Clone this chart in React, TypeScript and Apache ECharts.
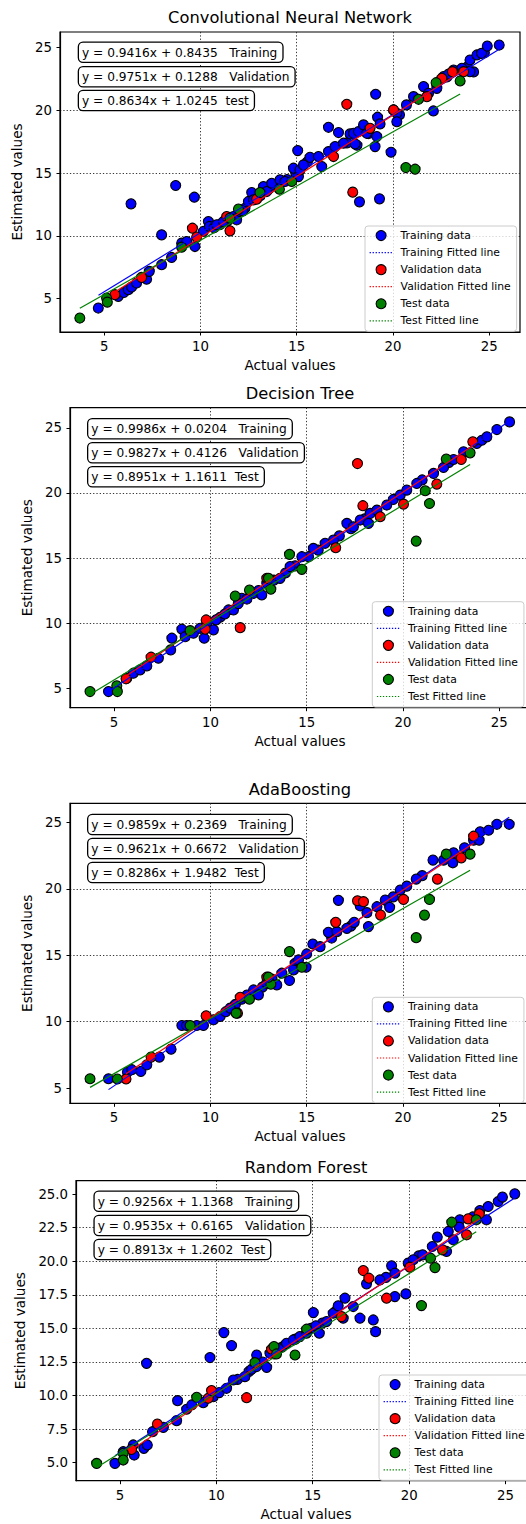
import React, { useEffect, useRef } from "react";
import * as echarts from "echarts";

type Pt = [number, number];

const FONT = '"DejaVu Sans", sans-serif';

const titles = ["Convolutional Neural Network", "Decision Tree", "AdaBoosting", "Random Forest"];

const equations: string[][] = [
  ["y = 0.9416x + 0.8435   Training", "y = 0.9751x + 0.1288   Validation", "y = 0.8634x + 1.0245  test"],
  ["y = 0.9986x + 0.0204   Training", "y = 0.9827x + 0.4126   Validation", "y = 0.8951x + 1.1611  Test"],
  ["y = 0.9859x + 0.2369   Training", "y = 0.9621x + 0.6672   Validation", "y = 0.8286x + 1.9482  Test"],
  ["y = 0.9256x + 1.1368   Training", "y = 0.9535x + 0.6165   Validation", "y = 0.8913x + 1.2602  Test"],
];

const legendNames = [
  "Training data",
  "Training Fitted line",
  "Validation data",
  "Validation Fitted line",
  "Test data",
  "Test Fitted line",
];

const xTickValues = [5, 10, 15, 20, 25];
const xTickLabels = ["5", "10", "15", "20", "25"];
const yTickValues = [5, 10, 15, 20, 25];
const yTickLabels = ["5", "10", "15", "20", "25"];
const yTickValuesRF = [5, 7.5, 10, 12.5, 15, 17.5, 20, 22.5, 25];
const yTickLabelsRF = ["5.0", "7.5", "10.0", "12.5", "15.0", "17.5", "20.0", "22.5", "25.0"];

// ---------- Convolutional Neural Network ----------
const cnnTrain: Pt[] = [
  [4.69, 4.26], [5.73, 5.19], [6.02, 5.5], [6.25, 5.72], [6.39, 12.56], [6.42, 5.93], [6.68, 6.25],
  [7.2, 6.56], [7.34, 7.18], [7.98, 10.09], [7.98, 7.71], [8.5, 8.29], [8.71, 14.02], [9.02, 9.43],
  [9.28, 9.56], [9.68, 13.09], [9.71, 9.16], [10.15, 10.36], [10.41, 11.15], [10.46, 10.76],
  [10.7, 10.65], [11.0, 10.9], [11.4, 11.2],
  [10.84, 10.89], [11.19, 11.15], [11.71, 11.55], [11.88, 11.29], [12.05, 11.95], [12.31, 12.21],
  [12.2, 12.0], [12.9, 13.0], [13.1, 13.2], [13.55, 13.75], [13.9, 14.0], [14.5, 14.5], [14.95, 15.0],
  [15.55, 15.9], [17.61, 17.41], [18.13, 17.23], [18.73, 18.16], [20.34, 19.66], [22.8, 22.67],
  [23.85, 23.46], [24.19, 23.07], [24.75, 24.6],
  [12.49, 12.75], [12.66, 13.46], [12.75, 12.88], [13.27, 13.94], [13.44, 13.54], [13.7, 14.2],
  [14.13, 14.47], [14.39, 14.34], [14.83, 15.4], [15.05, 16.8], [15.09, 14.73], [15.17, 15.27],
  [15.35, 15.66], [15.69, 16.27], [16.13, 16.33], [16.3, 15.53], [16.65, 18.66], [16.65, 16.72],
  [16.99, 17.12], [17.17, 18.24], [17.43, 17.39], [17.77, 18.13], [17.95, 18.18], [18.03, 17.33],
  [18.21, 18.32], [18.26, 12.72], [18.47, 18.85], [18.64, 18.18], [19.07, 17.12], [19.1, 21.29],
  [19.16, 17.92], [19.2, 19.46], [19.3, 12.96], [19.33, 18.93], [19.9, 16.67], [20.03, 20.04],
  [20.2, 19.77], [20.2, 19.1], [20.7, 20.44], [21.07, 21.1], [21.59, 21.9], [21.85, 21.37],
  [22.1, 19.96], [22.28, 21.76], [22.63, 22.7], [22.89, 22.9], [23.15, 23.22], [23.58, 23.36],
  [24.0, 24.02], [24.0, 23.09], [24.36, 24.42], [24.6, 24.55], [24.9, 25.13], [25.52, 25.21],
];
const cnnVal: Pt[] = [
  [5.55, 5.32], [6.94, 6.7], [9.58, 10.62], [9.8, 9.91], [11.36, 11.55], [11.53, 10.41],
  [12.92, 12.93], [16.91, 16.33], [17.6, 20.49], [17.91, 13.49], [18.81, 18.58], [20.03, 20.04],
  [21.76, 21.1], [22.54, 22.56], [23.09, 23.09], [23.67, 23.09],
];
const cnnTest: Pt[] = [
  [3.73, 3.46], [5.12, 5.05], [5.16, 4.73], [9.02, 9.11], [11.53, 11.42], [11.97, 12.14],
  [13.09, 13.46], [14.1, 13.73], [14.74, 14.34], [20.67, 15.45], [21.15, 15.32], [21.33, 20.89],
  [22.24, 22.21], [23.49, 22.35],
];
const cnnTrainFit: Pt[] = [[4.7, 5.27], [25.52, 24.87]];
const cnnValFit: Pt[] = [[5.55, 5.54], [23.67, 23.21]];
const cnnTestFit: Pt[] = [[3.73, 4.25], [23.49, 21.31]];

// ---------- Decision Tree ----------
const dtTrain: Pt[] = [
  [4.71, 4.74], [5.66, 5.77], [6.0, 6.15], [6.35, 6.41], [6.7, 6.71], [7.3, 7.3], [7.94, 7.94],
  [8.0, 8.84], [8.52, 9.53], [8.69, 8.96], [9.12, 9.22], [9.47, 9.6], [9.68, 8.84], [9.81, 9.86],
  [10.16, 9.48], [10.51, 10.45], [10.94, 11.01], [11.2, 11.01], [11.63, 11.91], [12.24, 12.29],
  [10.3, 10.25], [10.75, 10.7], [11.45, 11.5], [11.9, 11.85], [12.5, 12.5], [13.3, 13.3],
  [13.9, 13.85], [14.4, 14.4], [15.1, 15.1], [15.6, 15.6], [16.7, 16.7], [17.3, 17.25],
  [18.0, 18.0], [19.5, 19.5], [21.0, 21.0], [22.4, 22.35],
  [12.67, 12.16], [12.93, 13.06], [13.62, 13.44], [14.14, 14.34], [14.75, 15.1], [15.35, 15.74],
  [15.96, 16.13], [16.39, 16.38], [17.09, 17.66], [17.43, 17.4], [17.78, 17.92], [18.21, 17.66],
  [18.3, 18.43], [18.65, 18.68], [19.16, 19.07], [19.86, 19.83], [20.2, 20.22], [20.72, 20.73],
  [21.59, 21.5], [22.11, 21.96], [22.63, 22.57], [23.15, 23.16], [23.84, 23.8], [24.1, 24.05],
  [24.36, 24.31], [24.88, 24.87], [25.54, 25.46],
];
const dtVal: Pt[] = [
  [5.62, 5.72], [6.92, 7.38], [9.73, 9.53], [9.78, 10.24], [11.55, 9.65], [12.93, 13.44],
  [16.51, 15.79], [17.64, 22.26], [17.92, 19.02], [18.82, 18.17], [20.03, 19.14], [21.76, 20.68],
  [23.03, 22.57], [23.63, 23.93],
];
const dtTest: Pt[] = [
  [3.75, 4.74], [5.14, 5.18], [5.17, 4.74], [8.95, 9.42], [11.29, 12.08], [12.03, 12.54],
  [13.14, 12.6], [13.02, 13.44], [14.11, 15.28], [14.75, 14.13], [20.69, 16.3], [21.16, 20.17],
  [21.38, 19.19], [22.25, 22.6], [23.49, 23.08],
];
const dtTrainFit: Pt[] = [[4.71, 4.72], [25.54, 25.52]];
const dtValFit: Pt[] = [[5.62, 5.94], [23.63, 23.63]];
const dtTestFit: Pt[] = [[3.75, 4.52], [23.49, 22.19]];

// ---------- AdaBoosting ----------
const adaTrain: Pt[] = [
  [4.71, 5.7], [5.69, 6.2], [5.92, 6.38], [6.39, 6.25], [6.7, 6.75], [7.35, 7.33], [7.96, 7.93],
  [8.52, 9.71], [8.77, 9.71], [9.29, 9.71], [9.64, 9.71], [10.16, 10.14], [10.51, 10.39],
  [10.8, 10.75], [11.3, 11.3], [11.9, 12.0], [12.7, 12.6], [13.2, 13.2], [14.4, 14.4],
  [15.0, 15.1], [16.3, 16.3], [17.3, 17.2], [19.5, 19.4], [21.0, 21.0], [23.2, 23.1],
  [11.03, 11.02], [11.63, 11.69], [12.24, 12.39], [12.5, 12.02], [12.93, 12.89], [13.45, 12.77],
  [13.71, 13.65], [14.11, 13.1], [14.32, 13.9], [14.97, 14.1], [14.58, 14.65], [15.32, 15.85],
  [15.7, 15.65], [16.13, 16.73], [16.65, 19.14], [16.57, 16.78], [17.09, 17.03], [17.47, 17.48],
  [17.78, 18.73], [18.21, 17.16], [18.13, 18.21], [18.65, 18.66], [19.08, 19.16], [19.31, 18.61],
  [19.86, 19.91], [20.2, 20.21], [20.69, 20.74], [21.56, 22.17], [22.11, 22.17], [22.59, 21.97],
  [22.63, 22.72], [23.67, 23.67], [23.96, 23.67], [24.01, 24.3], [24.45, 24.42], [24.88, 24.87],
  [25.52, 24.87],
];
const adaVal: Pt[] = [
  [5.62, 5.68], [6.92, 7.33], [9.78, 10.44], [11.41, 10.64], [11.55, 11.84], [12.93, 13.35],
  [16.51, 17.48], [17.64, 19.11], [17.95, 19.04], [18.84, 18.03], [20.03, 19.21], [21.79, 20.74],
  [23.03, 22.34], [23.67, 23.97],
];
const adaTest: Pt[] = [
  [3.75, 5.7], [5.17, 5.68], [8.95, 9.71], [11.34, 10.64], [12.03, 11.69], [13.14, 12.82],
  [13.02, 13.35], [14.11, 15.28], [14.75, 14.1], [20.69, 16.33], [21.12, 18.03], [21.38, 19.21],
  [22.25, 22.62], [23.49, 22.62],
];
const adaTrainFit: Pt[] = [[4.71, 4.88], [25.52, 25.4]];
const adaValFit: Pt[] = [[5.62, 6.07], [23.67, 23.44]];
const adaTestFit: Pt[] = [[3.75, 5.05], [23.49, 21.41]];

// ---------- Random Forest ----------
const rfTrain: Pt[] = [
  [4.74, 4.95], [5.17, 5.82], [5.69, 6.32], [5.74, 5.57], [6.24, 6.07], [6.42, 6.32], [6.38, 12.4],
  [6.69, 7.31], [7.25, 7.63], [7.94, 8.13], [7.99, 9.62], [8.46, 8.98], [8.72, 9.3], [9.32, 9.47],
  [9.67, 12.83], [9.84, 9.92], [10.15, 10.22], [10.53, 10.54], [10.39, 14.69], [10.79, 13.72],
  [11.1, 11.2], [11.7, 11.8], [12.4, 12.5], [13.0, 13.1], [13.4, 13.6], [14.1, 14.2], [14.9, 15.0],
  [15.5, 15.4], [16.2, 16.3], [18.8, 18.8], [20.5, 20.4], [21.2, 21.1], [23.3, 23.3],
  [10.88, 11.16], [11.48, 11.41], [11.83, 11.96], [12.09, 13.02], [12.09, 12.16], [12.61, 12.1],
  [12.78, 13.15], [13.21, 13.52], [13.64, 13.89], [13.99, 14.14], [14.33, 14.39], [14.68, 14.64],
  [15.03, 16.18], [15.16, 15.19], [15.34, 14.64], [15.72, 15.51], [16.06, 16.13], [16.32, 16.68],
  [16.58, 15.76], [16.67, 17.25], [17.1, 16.63], [17.45, 15.76], [17.79, 18.32], [18.14, 15.63],
  [18.26, 14.76], [18.48, 18.61], [19.09, 19.66], [19.26, 19.11], [19.26, 17.37], [19.83, 17.57],
  [19.95, 19.86], [20.21, 20.11], [20.7, 20.48], [21.46, 21.8], [21.94, 20.73], [22.03, 22.22],
  [22.29, 21.6], [22.63, 23.09], [22.6, 22.54], [23.67, 23.78], [24.01, 23.09], [24.1, 24.08],
  [24.62, 24.45], [24.84, 24.78], [25.48, 25.02],
];
const rfVal: Pt[] = [
  [5.6, 5.99], [6.94, 7.88], [9.58, 9.8], [9.75, 10.37], [11.57, 9.84], [12.86, 13.45],
  [16.49, 15.88], [17.62, 19.31], [17.91, 18.74], [18.83, 17.25], [20.04, 19.56], [21.73, 20.85],
  [22.98, 21.97], [23.06, 23.16], [23.64, 23.53],
];
const rfTest: Pt[] = [
  [3.79, 4.95], [5.17, 5.7], [5.17, 5.2], [8.98, 9.87], [12.0, 12.45], [12.99, 13.65],
  [13.12, 13.1], [14.08, 13.02], [14.68, 14.94], [20.64, 16.7], [21.11, 20.23], [21.34, 19.53],
  [22.21, 22.91], [23.48, 23.09],
];
const rfTrainFit: Pt[] = [[4.74, 5.52], [25.48, 24.72]];
const rfValFit: Pt[] = [[5.6, 5.96], [23.64, 23.16]];
const rfTestFit: Pt[] = [[3.79, 4.64], [23.48, 22.19]];

const panels = [
  { train: cnnTrain, val: cnnVal, test: cnnTest, trainFit: cnnTrainFit, valFit: cnnValFit, testFit: cnnTestFit },
  { train: dtTrain, val: dtVal, test: dtTest, trainFit: dtTrainFit, valFit: dtValFit, testFit: dtTestFit },
  { train: adaTrain, val: adaVal, test: adaTest, trainFit: adaTrainFit, valFit: adaValFit, testFit: adaTestFit },
  { train: rfTrain, val: rfVal, test: rfTest, trainFit: rfTrainFit, valFit: rfValFit, testFit: rfTestFit },
];

// layout (pixels) and axis extents per panel
const layouts = [
  { left: 60, top: 32, width: 460, height: 300, xMin: 2.7, xMax: 26.6, yMin: 2.35, yMax: 26.25, yStep: 5, titleY: 17, yNameGap: 33, eqX: 79, eqY: [42.7, 67.3, 91], legendLeft: 365, legendTop: 226 },
  { left: 70, top: 407.7, width: 460, height: 300, xMin: 2.71, xMax: 26.6, yMin: 3.5, yMax: 26.55, yStep: 5, titleY: 393, yNameGap: 33, eqX: 88.3, eqY: [419.3, 443.3, 467.3], legendLeft: 372.3, legendTop: 601.7 },
  { left: 70, top: 803.3, width: 460, height: 300, xMin: 2.71, xMax: 26.6, yMin: 3.85, yMax: 26.45, yStep: 5, titleY: 789, yNameGap: 33, eqX: 88.3, eqY: [815, 839, 863], legendLeft: 372.3, legendTop: 997.3 },
  { left: 76, top: 1180.7, width: 460, height: 300, xMin: 2.72, xMax: 26.58, yMin: 3.66, yMax: 26.0, yStep: 2.5, titleY: 1167, yNameGap: 46, eqX: 94.7, eqY: [1191.7, 1216, 1240], legendLeft: 379, legendTop: 1375 },
];

const COLORS = { train: "#0000ff", val: "#ff0000", test: "#008000" };

function labelFor(values: number[], labels: string[]) {
  return (v: number) => {
    for (let i = 0; i < values.length; i++) {
      if (Math.abs(values[i] - v) < 1e-6) return labels[i];
    }
    return "";
  };
}

const splitLineStyle = { color: "#222", width: 0.9, type: [1.3, 2] as number[] };

function buildOption() {
  const grid: any[] = [];
  const xAxis: any[] = [];
  const yAxis: any[] = [];
  const series: any[] = [];
  const legend: any[] = [];
  const graphic: any[] = [];

  layouts.forEach((l, i) => {
    const isRF = i === 3;
    const yVals = isRF ? yTickValuesRF : yTickValues;
    const yLabs = isRF ? yTickLabelsRF : yTickLabels;
    grid.push({
      left: l.left,
      top: l.top,
      width: l.width,
      height: l.height,
      show: true,
      borderColor: "#000",
      borderWidth: 1.2,
      backgroundColor: "transparent",
      containLabel: false,
      outerBoundsMode: "none",
    });
    xAxis.push({
      type: "value",
      gridIndex: i,
      min: l.xMin,
      max: l.xMax,
      minInterval: 5,
      maxInterval: 5,
      name: "Actual values",
      nameLocation: "middle",
      nameGap: 26,
      nameTextStyle: { fontFamily: FONT, fontSize: 13.6, color: "#000" },
      axisLine: { show: true, onZero: false, lineStyle: { color: "#000", width: 1.2 } },
      axisTick: { show: true, inside: false, length: 3.5, customValues: xTickValues, lineStyle: { color: "#000", width: 1 } },
      axisLabel: {
        show: true,
        margin: 8,
        fontFamily: FONT,
        fontSize: 13.3,
        color: "#000",
        customValues: xTickValues,
        formatter: labelFor(xTickValues, xTickLabels),
      },
      splitLine: { show: true, showMinLine: false, showMaxLine: false, lineStyle: splitLineStyle },
    });
    yAxis.push({
      type: "value",
      gridIndex: i,
      min: l.yMin,
      max: l.yMax,
      minInterval: l.yStep,
      maxInterval: l.yStep,
      name: "Estimated values",
      nameLocation: "middle",
      nameGap: l.yNameGap,
      nameTextStyle: { fontFamily: FONT, fontSize: 13.6, color: "#000" },
      axisLine: { show: true, onZero: false, lineStyle: { color: "#000", width: 1.2 } },
      axisTick: { show: true, inside: false, length: 3.5, customValues: yVals, lineStyle: { color: "#000", width: 1 } },
      axisLabel: {
        show: true,
        margin: 8,
        fontFamily: FONT,
        fontSize: 13.3,
        color: "#000",
        customValues: yVals,
        formatter: labelFor(yVals, yLabs),
      },
      splitLine: { show: true, showMinLine: false, showMaxLine: false, lineStyle: splitLineStyle },
    });

    const p = panels[i];
    const scatter = (name: string, data: Pt[], color: string) => ({
      type: "scatter",
      name,
      xAxisIndex: i,
      yAxisIndex: i,
      data,
      symbol: "circle",
      symbolSize: 10,
      silent: true,
      itemStyle: { color, borderColor: "#000", borderWidth: 1.1, opacity: 1 },
    });
    const line = (name: string, data: Pt[], color: string) => ({
      type: "line",
      name,
      xAxisIndex: i,
      yAxisIndex: i,
      data,
      symbol: "none",
      showSymbol: false,
      silent: true,
      lineStyle: { color, width: 1.2, type: "solid" },
      itemStyle: { color },
    });
    series.push(scatter(legendNames[0], p.train, COLORS.train));
    series.push(line(legendNames[1], p.trainFit, COLORS.train));
    series.push(scatter(legendNames[2], p.val, COLORS.val));
    series.push(line(legendNames[3], p.valFit, COLORS.val));
    series.push(scatter(legendNames[4], p.test, COLORS.test));
    series.push(line(legendNames[5], p.testFit, COLORS.test));

    const hiddenSymbol = { opacity: 0, color: "rgba(0,0,0,0)", borderColor: "rgba(0,0,0,0)", borderWidth: 0 };
    const dotted = (color: string) => ({ type: [1.3, 1.7], width: 1.2, color, opacity: 1 });
    legend.push({
      show: true,
      orient: "vertical",
      left: l.legendLeft,
      top: l.legendTop,
      itemWidth: 23,
      itemHeight: 10,
      itemGap: 6,
      padding: [4, 6, 5, 4],
      backgroundColor: "rgba(255,255,255,0.8)",
      borderColor: "#cccccc",
      borderWidth: 1,
      borderRadius: 3,
      selectedMode: false,
      textStyle: { fontFamily: FONT, fontSize: 10.8, color: "#000", padding: [0, 0, 0, 3] },
      data: [
        { name: legendNames[0], icon: "circle", itemStyle: { color: COLORS.train, borderColor: "#000", borderWidth: 1.1 } },
        { name: legendNames[1], lineStyle: dotted(COLORS.train), itemStyle: hiddenSymbol },
        { name: legendNames[2], icon: "circle", itemStyle: { color: COLORS.val, borderColor: "#000", borderWidth: 1.1 } },
        { name: legendNames[3], lineStyle: dotted(COLORS.val), itemStyle: hiddenSymbol },
        { name: legendNames[4], icon: "circle", itemStyle: { color: COLORS.test, borderColor: "#000", borderWidth: 1.1 } },
        { name: legendNames[5], lineStyle: dotted(COLORS.test), itemStyle: hiddenSymbol },
      ],
    });

    graphic.push({
      type: "text",
      x: l.left + l.width / 2,
      y: l.titleY,
      z: 100,
      silent: true,
      style: {
        text: titles[i],
        fontFamily: FONT,
        fontSize: 16.3,
        fill: "#000",
        align: "center",
        verticalAlign: "middle",
      },
    });
    equations[i].forEach((eq, j) => {
      graphic.push({
        type: "text",
        x: l.eqX,
        y: l.eqY[j],
        z: 100,
        silent: true,
        style: {
          text: eq,
          fontFamily: FONT,
          fontSize: 12.2,
          lineHeight: 14,
          fill: "#000",
          backgroundColor: "#fff",
          borderColor: "#000",
          borderWidth: 1.3,
          borderRadius: 4,
          padding: [3, 5, 2, 3],
          align: "left",
          verticalAlign: "top",
        },
      });
    });
  });

  return {
    animation: false,
    backgroundColor: "#fff",
    textStyle: { fontFamily: FONT },
    grid,
    xAxis,
    yAxis,
    legend,
    series,
    graphic,
  };
}

export default function App() {
  const ref = useRef<HTMLDivElement>(null);
  useEffect(() => {
    if (!ref.current) return;
    const chart = echarts.init(ref.current, undefined, { renderer: "svg" });
    chart.setOption(buildOption() as any);
    return () => chart.dispose();
  }, []);
  return (
    <div
      ref={ref}
      style={{ position: "absolute", left: 0, top: 0, width: 526, height: 1524, background: "#fff" }}
    />
  );
}
